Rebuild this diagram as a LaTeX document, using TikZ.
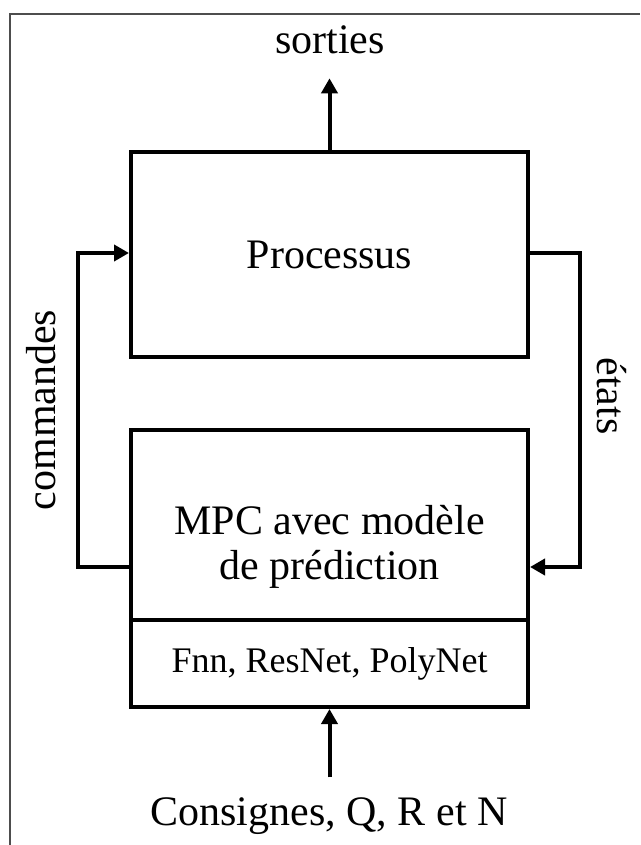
\documentclass[tikz,border=0pt]{standalone}
\usepackage{fontspec}
\setmainfont{Liberation Serif}
\usetikzlibrary{arrows.meta,positioning}
\definecolor{frameGray}{HTML}{4D4D4D}

\begin{document}
\begin{tikzpicture}[x=1pt, y=-1pt,
  block/.style={draw, line width=4pt, outer sep=0pt, minimum width=397pt, align=center, font=\fontsize{42}{48}\selectfont},
  flow/.style={-{Triangle[length=15pt,width=16pt]}, line width=4pt, shorten >=2pt},
  lbl/.style={font=\fontsize{42}{45}\selectfont, inner sep=0pt}
]
  \useasboundingbox (0,0) rectangle (640,845);
  \draw[frameGray, line width=2pt] (10,845) -- (10,14) -- (640,14);

  \node[block, minimum height=205pt] (proc) at (329.5,254.5) {Processus};
  \node[block, minimum height=190pt, below=73pt of proc] (mpc) {};
  \node[lbl, align=center] (mpctxt) at ([yshift=-22pt]mpc.center) {MPC avec modèle\\de prédiction};
  \node[block, minimum height=87pt, below=0pt of mpc, font=\fontsize{36}{40}\selectfont] (nets) {Fnn, ResNet, PolyNet};

  \node[lbl] (sorties) at (330,40) {sorties};
  \node[lbl] (consignes) at (329,816) {Consignes, Q, R et N};
  \node[lbl, rotate=90] (cmd) at (41,410) {commandes};
  \node[lbl, rotate=-90] (etats) at (612,396) {états};

  \draw[flow, shorten >=24pt] (proc.north) -- (proc.north |- sorties.south);
  \draw[flow, shorten <=20pt] (nets.south |- consignes.north) -- (nets.south);
  \draw[flow] ([yshift=-42pt]mpc.west) -- ++(-53pt,0) |- ([yshift=1.5pt]proc.west);
  \draw[flow] ([yshift=1.5pt]proc.east) -- ++(52pt,0) |- ([yshift=-42pt]mpc.east);
\end{tikzpicture}
\end{document}
